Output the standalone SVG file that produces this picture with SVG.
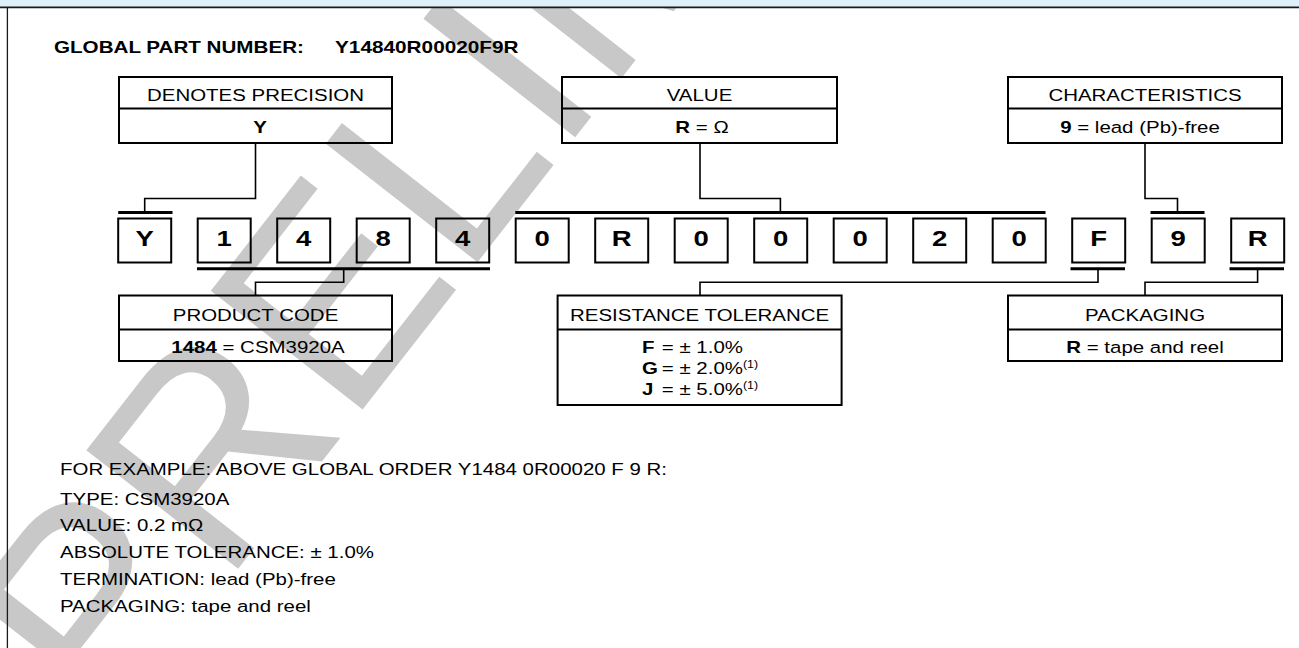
<svg xmlns="http://www.w3.org/2000/svg" width="1299" height="648" viewBox="0 0 1299 648">
<style>
.t{font-family:"Liberation Sans",Arial,Helvetica,sans-serif;font-size:16.5px;fill:#000}
.b{font-weight:bold}
.c{text-anchor:middle}
.ch{font-family:"Liberation Sans",Arial,Helvetica,sans-serif;font-size:22px;font-weight:bold;text-anchor:middle;fill:#000}
.box{fill:none;stroke:#000;stroke-width:2}
.div{stroke:#000;stroke-width:2}
.cb{fill:none;stroke:#000;stroke-width:2}
.con{fill:none;stroke:#000;stroke-width:1.6}
.bar{stroke:#000;stroke-width:3}
.sup{font-size:10px}
.wm{font-family:"Liberation Sans",Arial,sans-serif;font-size:280px;fill:#c8c8c8}
</style>

<g id="watermark">
<text class="wm" transform="translate(109 734) rotate(-52)">PRELIMINARY</text>
</g>

<g id="frame">
<rect x="0" y="0" width="1299" height="7" fill="#dff0fb"/>
<line x1="0" y1="7.4" x2="1299" y2="7.4" stroke="#1a1a1a" stroke-width="1.6"/>
<line x1="7.4" y1="7" x2="7.4" y2="648" stroke="#1a1a1a" stroke-width="1.3"/>
</g>

<g id="title">
<text class="t b" transform="translate(54 53) scale(1.25 1)">GLOBAL PART NUMBER:</text>
<text class="t b" transform="translate(335 53) scale(1.26 1)">Y14840R00020F9R</text>
</g>

<g id="node-precision">
<rect class="box" x="119" y="77" width="273" height="66"/>
<line class="div" x1="119" y1="108.5" x2="392" y2="108.5"/>
<text class="t c" transform="translate(255.5 100.5) scale(1.24 1)">DENOTES PRECISION</text>
<text class="t b c" transform="translate(260 133) scale(1.24 1)">Y</text>
</g>

<g id="node-value">
<rect class="box" x="562" y="77" width="275" height="66"/>
<line class="div" x1="562" y1="108.5" x2="837" y2="108.5"/>
<text class="t c" transform="translate(699.5 100.5) scale(1.24 1)">VALUE</text>
<text class="t c" transform="translate(702 133) scale(1.24 1)"><tspan class="b">R</tspan> = Ω</text>
</g>

<g id="node-characteristics">
<rect class="box" x="1008" y="77" width="274" height="66"/>
<line class="div" x1="1008" y1="108.5" x2="1282" y2="108.5"/>
<text class="t c" transform="translate(1145 100.5) scale(1.24 1)">CHARACTERISTICS</text>
<text class="t c" transform="translate(1140 133) scale(1.24 1)"><tspan class="b">9</tspan> = lead (Pb)-free</text>
</g>

<g id="char-0"><rect class="cb" x="118.2" y="218.5" width="53" height="44"/><text class="ch" transform="translate(144.7 246) scale(1.25 1)">Y</text></g>
<g id="char-1"><rect class="cb" x="197.7" y="218.5" width="53" height="44"/><text class="ch" transform="translate(224.2 246) scale(1.25 1)">1</text></g>
<g id="char-2"><rect class="cb" x="277.2" y="218.5" width="53" height="44"/><text class="ch" transform="translate(303.7 246) scale(1.25 1)">4</text></g>
<g id="char-3"><rect class="cb" x="356.7" y="218.5" width="53" height="44"/><text class="ch" transform="translate(383.2 246) scale(1.25 1)">8</text></g>
<g id="char-4"><rect class="cb" x="436.2" y="218.5" width="53" height="44"/><text class="ch" transform="translate(462.7 246) scale(1.25 1)">4</text></g>
<g id="char-5"><rect class="cb" x="515.7" y="218.5" width="53" height="44"/><text class="ch" transform="translate(542.2 246) scale(1.25 1)">0</text></g>
<g id="char-6"><rect class="cb" x="595.2" y="218.5" width="53" height="44"/><text class="ch" transform="translate(621.7 246) scale(1.25 1)">R</text></g>
<g id="char-7"><rect class="cb" x="674.7" y="218.5" width="53" height="44"/><text class="ch" transform="translate(701.2 246) scale(1.25 1)">0</text></g>
<g id="char-8"><rect class="cb" x="754.2" y="218.5" width="53" height="44"/><text class="ch" transform="translate(780.7 246) scale(1.25 1)">0</text></g>
<g id="char-9"><rect class="cb" x="833.7" y="218.5" width="53" height="44"/><text class="ch" transform="translate(860.2 246) scale(1.25 1)">0</text></g>
<g id="char-10"><rect class="cb" x="913.2" y="218.5" width="53" height="44"/><text class="ch" transform="translate(939.7 246) scale(1.25 1)">2</text></g>
<g id="char-11"><rect class="cb" x="992.7" y="218.5" width="53" height="44"/><text class="ch" transform="translate(1019.2 246) scale(1.25 1)">0</text></g>
<g id="char-12"><rect class="cb" x="1072.2" y="218.5" width="53" height="44"/><text class="ch" transform="translate(1098.7 246) scale(1.25 1)">F</text></g>
<g id="char-13"><rect class="cb" x="1151.7" y="218.5" width="53" height="44"/><text class="ch" transform="translate(1178.2 246) scale(1.25 1)">9</text></g>
<g id="char-14"><rect class="cb" x="1231.2" y="218.5" width="53" height="44"/><text class="ch" transform="translate(1257.7 246) scale(1.25 1)">R</text></g>

<g id="node-product">
<rect class="box" x="119" y="295.5" width="273" height="65.5"/>
<line class="div" x1="119" y1="329.5" x2="392" y2="329.5"/>
<text class="t c" transform="translate(255.5 321) scale(1.24 1)">PRODUCT CODE</text>
<text class="t c" transform="translate(258 353) scale(1.24 1)"><tspan class="b">1484</tspan> = CSM3920A</text>
</g>

<g id="node-tolerance">
<rect class="box" x="557.6" y="295.5" width="284" height="109.5"/>
<line class="div" x1="557.6" y1="329.5" x2="841.6" y2="329.5"/>
<text class="t c" transform="translate(699.6 321) scale(1.24 1)">RESISTANCE TOLERANCE</text>
<text class="t" transform="translate(642 353) scale(1.24 1)"><tspan class="b">F</tspan><tspan x="16">= ± 1.0%</tspan></text>
<text class="t" transform="translate(642 374) scale(1.24 1)"><tspan class="b">G</tspan><tspan x="16">= ± 2.0%</tspan><tspan class="sup" dy="-6">(1)</tspan></text>
<text class="t" transform="translate(642 394.5) scale(1.24 1)"><tspan class="b">J</tspan><tspan x="16">= ± 5.0%</tspan><tspan class="sup" dy="-6">(1)</tspan></text>
</g>

<g id="node-packaging">
<rect class="box" x="1008" y="295.5" width="274" height="65.5"/>
<line class="div" x1="1008" y1="329.5" x2="1282" y2="329.5"/>
<text class="t c" transform="translate(1145 321) scale(1.24 1)">PACKAGING</text>
<text class="t c" transform="translate(1145 353) scale(1.24 1)"><tspan class="b">R</tspan> = tape and reel</text>
</g>

<g id="connectors">
<line class="bar" x1="118.2" y1="212.5" x2="172.5" y2="212.5"/>
<line class="bar" x1="515.3" y1="212.5" x2="1045.5" y2="212.5"/>
<line class="bar" x1="1150.5" y1="212.5" x2="1204.5" y2="212.5"/>
<line class="bar" x1="197" y1="268.7" x2="490" y2="268.7"/>
<line class="bar" x1="1070.5" y1="268.7" x2="1125" y2="268.7"/>
<line class="bar" x1="1229.5" y1="268.7" x2="1284" y2="268.7"/>
<polyline class="con" points="255.5,143 255.5,198.5 144.7,198.5 144.7,211"/>
<polyline class="con" points="700,143 700,198.5 780.4,198.5 780.4,211"/>
<polyline class="con" points="1145,143 1145,198.5 1177.5,198.5 1177.5,211"/>
<polyline class="con" points="343.7,270 343.7,282.3 255.5,282.3 255.5,295.5"/>
<polyline class="con" points="1098,270 1098,282.3 700,282.3 700,295.5"/>
<polyline class="con" points="1257.6,270 1257.6,282.3 1145,282.3 1145,295.5"/>
</g>

<g id="example">
<text class="t" transform="translate(60 475) scale(1.24 1)">FOR EXAMPLE: ABOVE GLOBAL ORDER Y1484 0R00020 F 9 R:</text>
<text class="t" transform="translate(60 504.5) scale(1.24 1)">TYPE: CSM3920A</text>
<text class="t" transform="translate(60 531.3) scale(1.24 1)">VALUE: 0.2 mΩ</text>
<text class="t" transform="translate(60 558.1) scale(1.24 1)">ABSOLUTE TOLERANCE: ± 1.0%</text>
<text class="t" transform="translate(60 584.9) scale(1.24 1)">TERMINATION: lead (Pb)-free</text>
<text class="t" transform="translate(60 611.7) scale(1.24 1)">PACKAGING: tape and reel</text>
</g>
</svg>
